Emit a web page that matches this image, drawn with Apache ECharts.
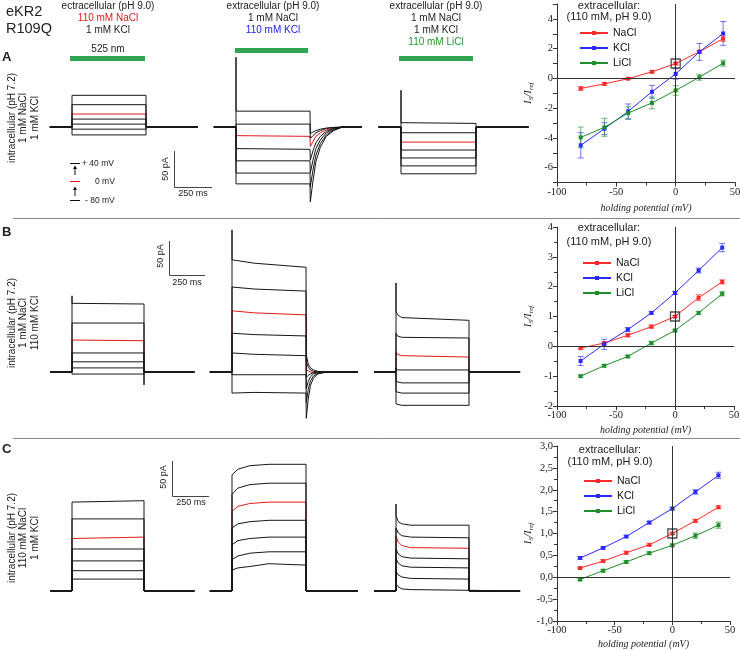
<!DOCTYPE html>
<html><head><meta charset="utf-8">
<script src="https://cdn.jsdelivr.net/npm/echarts@6/dist/echarts.min.js"></script>
<style>html,body{margin:0;padding:0;background:#fff}#c{width:740px;height:650px}</style>
</head><body><div id="c"></div><script>
// ---------- protocol (ms) ----------
const traceStart = -150, stepOn = 0, stepOff = 500, traceEnd = 850;
const voltageSteps = ['+40','+20','0','-20','-40','-60','-80'];
const redIndex = 2; // 0 mV trace

// ---------- current traces (pA) : rows = +40 ... -80 mV ----------
const a1Times = [0, 500];
const a1Levels = [[44,44],[31,31],[18,18],[11,11],[4,4],[-3,-3],[-11,-11]];
const a2Times = [0, 500];
const a2Levels = [[22,22],[4,4],[-12,-13],[-30,-31],[-47,-47],[-64,-64],[-79,-79]];
const a2OnsetSpike = 97;
const a2TailTimes = [502,520,540,570,610,660,720];
const a2Tails = [[-9,-7,-5,-3,-1.5,-0.5,0],[-16,-12,-8,-5,-2,-1,0],[-27,-20,-13,-8,-4,-1.5,0],
  [-46,-33,-22,-13,-6,-2,0],[-64,-46,-30,-18,-8,-3,0],[-83,-60,-39,-23,-11,-4,0],[-104,-75,-48,-28,-13,-5,0]];
const a3Times = [0, 500];
const a3Levels = [[6,5],[-8,-8],[-21,-21],[-32,-32],[-43,-43],[-54,-54],[-65,-65]];
const a3OnsetSpike = 51;

const b1Times = [0, 500];
const b1Levels = [[101,100],[72,72],[47,46],[28,28],[15,15],[6,6],[-3,-3]];
const b1OnsetSpike = 112, b1OffsetSpike = -19;
const b2Times = [0, 150, 500];
const b2Levels = [[165,160,154],[125,122,119],[90,87,84],[57,55,53],[28,26,24],[-4,-4,-4],[-31,-30,-31]];
const b2OnsetSpike = 209;
const b2TailTimes = [502,515,530,550,580,620,680];
const b2Tails = [[25,12,6,3,1,0,0],[15,7,3,1,0,0,0],[3,1,0,-1,0,0,0],[-8,-5,-3,-1,0,0,0],
  [-25,-14,-7,-3,-1,0,0],[-45,-26,-13,-6,-2,0,0],[-68,-40,-20,-9,-3,-1,0]];
const b3Times = [0, 10, 40, 500];
const b3Levels = [[90,84,80,76],[57,53,51,50],[30,26,24,22],[6,3,3,3],[-14,-16,-16,-16],[-29,-31,-31,-31],[-47,-49,-49,-49]];
const b3OnsetSpike = 131;

const c1Times = [0, 500];
const c1Levels = [[127,129],[103,103],[75,77],[60,60],[43,43],[29,29],[17,17]];
const c2Times = [0, 40, 120, 250, 500];
const c2Levels = [[166,174,179,181,181],[138,147,152,154,154],[114,121,125,127,127],[90,96,99,101,101],
  [66,72,75,77,77],[45,50,54,56,56],[30,33,35,39,37]];
const c3Times = [0, 15, 40, 100, 500];
const c3Levels = [[108,99,96,94,94],[90,83,79,77,76],[78,70,65,62,61],[60,53,49,47,46],[46,40,36,34,33],[28,23,20,18,17],[10,6,3,2,1]];
const c3OnsetSpike = 124;

// ---------- I-V data (I_S / I_ref) ----------
const ivVoltages = [-80,-60,-40,-20,0,20,40];
const refPoint = [0, 1];
const ivA_NaCl = [-0.68,-0.37,-0.02,0.44,1.0,1.79,2.67];
const ivA_NaCl_err = [0.12,0.1,0.06,0.07,0.06,0.1,0.18];
const ivA_KCl = [-4.5,-3.38,-2.22,-0.9,0.3,1.78,3.02];
const ivA_KCl_err = [0.85,0.4,0.5,0.43,0.35,0.57,0.8];
const ivA_LiCl = [-3.97,-3.29,-2.33,-1.65,-0.81,0.08,1.02];
const ivA_LiCl_err = [0.7,0.6,0.42,0.4,0.32,0.2,0.2];

const ivB_NaCl = [-0.06,0.11,0.37,0.66,1.0,1.63,2.16];
const ivB_NaCl_err = [0.04,0.04,0.05,0.05,0.03,0.1,0.07];
const ivB_KCl = [-0.49,0.07,0.56,1.12,1.79,2.54,3.31];
const ivB_KCl_err = [0.15,0.17,0.07,0.04,0.05,0.08,0.14];
const ivB_LiCl = [-1.0,-0.65,-0.34,0.11,0.53,1.12,1.76];
const ivB_LiCl_err = [0.04,0.04,0.04,0.06,0.04,0.05,0.07];

const ivC_NaCl = [0.21,0.37,0.56,0.74,1.0,1.29,1.6];
const ivC_NaCl_err = [0.02,0.03,0.03,0.02,0.02,0.03,0.03];
const ivC_KCl = [0.44,0.67,0.93,1.25,1.57,1.95,2.33];
const ivC_KCl_err = [0.03,0.02,0.02,0.03,0.03,0.05,0.07];
const ivC_LiCl = [-0.05,0.15,0.35,0.55,0.73,0.95,1.19];
const ivC_LiCl_err = [0.03,0.03,0.03,0.03,0.03,0.06,0.07];

const ionNames = ['NaCl','KCl','LiCl'];

// ---------- styling / layout ----------
const SANS = '"Liberation Sans", Arial, sans-serif';
const SERIF = '"Liberation Serif", "Times New Roman", serif';
const colBlack = '#161616', colRed = '#e3191c';
const ionColors = {NaCl:'#ff2a2a', KCl:'#2a2aff', LiCl:'#1f8f2a'};
const rowLayout = {
  A:{yMin:-115, yMax:107, top:49.96, height:159.84},
  B:{yMin:-80, yMax:220, top:222.4, height:204},
  C:{yMin:-20, yMax:200, top:451, height:154}
};
const panels = [
  {row:'A', on:72, off:146, times:a1Times, levels:a1Levels},
  {row:'A', on:236, off:310, times:a2Times, levels:a2Levels, onsetSpike:a2OnsetSpike, tailTimes:a2TailTimes, tails:a2Tails},
  {row:'A', on:401, off:476, times:a3Times, levels:a3Levels, onsetSpike:a3OnsetSpike},
  {row:'B', on:72, off:144, times:b1Times, levels:b1Levels, onsetSpike:b1OnsetSpike, offsetSpike:b1OffsetSpike},
  {row:'B', on:232, off:306, times:b2Times, levels:b2Levels, onsetSpike:b2OnsetSpike, tailTimes:b2TailTimes, tails:b2Tails},
  {row:'B', on:396, off:469, times:b3Times, levels:b3Levels, onsetSpike:b3OnsetSpike},
  {row:'C', on:72, off:144, times:c1Times, levels:c1Levels},
  {row:'C', on:232, off:306, times:c2Times, levels:c2Levels},
  {row:'C', on:396, off:469, times:c3Times, levels:c3Levels, onsetSpike:c3OnsetSpike}
];

function buildTrace(p, i) {
  const pts = [[traceStart, 0], [stepOn, 0]];
  if (i === 0 && p.onsetSpike != null) pts.push([stepOn, p.onsetSpike]);
  p.times.forEach((t, j) => pts.push([t, p.levels[i][j]]));
  if (i === 0 && p.offsetSpike != null) pts.push([stepOff, p.offsetSpike]);
  if (p.tails) p.tailTimes.forEach((t, j) => pts.push([t, p.tails[i][j]]));
  else pts.push([stepOff, 0]);
  pts.push([traceEnd, 0]);
  return pts;
}

const grids = [], xAxes = [], yAxes = [], series = [];
panels.forEach((p, gi) => {
  const r = rowLayout[p.row];
  const span = p.off - p.on;
  grids.push({left: p.on - span * 0.3, width: span * 2, top: r.top, height: r.height, outerBoundsMode:'none'});
  xAxes.push({gridIndex: gi, type:'value', min: traceStart, max: traceEnd, show:false});
  yAxes.push({gridIndex: gi, type:'value', min: r.yMin, max: r.yMax, show:false});
  voltageSteps.forEach((label, i) => {
    series.push({type:'line', name: label + ' mV', xAxisIndex: gi, yAxisIndex: gi, data: buildTrace(p, i), symbol:'none',
      silent:true, z: i === redIndex ? 2 : 3,
      lineStyle:{color: i === redIndex ? colRed : colBlack, width: 1}});
  });
});

// I-V grids
const ivRows = [
  {grid:{left:557, top:4, width:178, height:178.5}, yMin:-7, yMax:5, yInt:1, fmt: v => (Math.round(v) % 2 === 0 ? String(v) : ''), minor:false,
   data:{NaCl:[ivA_NaCl, ivA_NaCl_err], KCl:[ivA_KCl, ivA_KCl_err], LiCl:[ivA_LiCl, ivA_LiCl_err]}, legend:{left:579, top:27},
   head:{x:609, y1:6, y2:17}, nameGap:21},
  {grid:{left:557, top:227, width:177, height:179}, yMin:-2, yMax:4, yInt:1, fmt: v => String(v), minor:true,
   data:{NaCl:[ivB_NaCl, ivB_NaCl_err], KCl:[ivB_KCl, ivB_KCl_err], LiCl:[ivB_LiCl, ivB_LiCl_err]}, legend:{left:582, top:257},
   head:{x:609, y1:228, y2:242}, nameGap:19},
  {grid:{left:557, top:446, width:173, height:175}, yMin:-1, yMax:3, yInt:0.5, fmt: v => v.toFixed(1).replace('.', ','), minor:true,
   data:{NaCl:[ivC_NaCl, ivC_NaCl_err], KCl:[ivC_KCl, ivC_KCl_err], LiCl:[ivC_LiCl, ivC_LiCl_err]}, legend:{left:583, top:475},
   head:{x:610, y1:450, y2:462}, nameGap:18}
];

function errRender(color) {
  return function (params, api) {
    const x = api.value(0), y = api.value(1), e = api.value(2);
    const lo = api.coord([x, y - e]), hi = api.coord([x, y + e]);
    const w = 3, st = {stroke: color, lineWidth: 1, opacity: 0.65};
    return {type:'group', children:[
      {type:'line', shape:{x1:lo[0], y1:lo[1], x2:hi[0], y2:hi[1]}, style:st},
      {type:'line', shape:{x1:lo[0]-w, y1:lo[1], x2:lo[0]+w, y2:lo[1]}, style:st},
      {type:'line', shape:{x1:hi[0]-w, y1:hi[1], x2:hi[0]+w, y2:hi[1]}, style:st}
    ]};
  };
}

const legends = [];
ivRows.forEach((row, k) => {
  const gi = panels.length + k;
  grids.push(Object.assign({outerBoundsMode:'none'}, row.grid));
  xAxes.push({gridIndex: gi, type:'value', min:-100, max:50, interval:50,
    axisLine:{show:true, onZero:false, lineStyle:{color:'#333', width:1}},
    axisTick:{show:true, length:4, lineStyle:{color:'#333'}},
    minorTick:{show:true, splitNumber:2, length:3, lineStyle:{color:'#333'}},
    splitLine:{show:false}, minorSplitLine:{show:false},
    axisLabel:{fontFamily:SERIF, fontSize:10.5, color:'#222', margin:4},
    name:'holding potential (mV)', nameLocation:'middle', nameGap: row.nameGap, nameMoveOverlap:false,
    nameTextStyle:{fontFamily:SERIF, fontStyle:'italic', fontSize:10, color:'#222'}});
  yAxes.push({gridIndex: gi, type:'value', min: row.yMin, max: row.yMax, interval: row.yInt,
    axisLine:{show:true, onZero:false, lineStyle:{color:'#333', width:1}},
    axisTick:{show:true, length:4, lineStyle:{color:'#333'}},
    minorTick:{show: row.minor, splitNumber:2, length:3, lineStyle:{color:'#333'}},
    splitLine:{show:false}, minorSplitLine:{show:false},
    axisLabel:{fontFamily:SERIF, fontSize:10.5, color:'#222', margin:4, formatter: row.fmt},
    name:'{i|I}{s|S}{i|/I}{s|ref}', nameLocation:'middle', nameRotate:90, nameGap:22, nameMoveOverlap:false,
    nameTextStyle:{rich:{
      i:{fontFamily:SERIF, fontStyle:'italic', fontSize:11, lineHeight:14, color:'#222'},
      s:{fontFamily:SERIF, fontStyle:'italic', fontSize:7, lineHeight:8, verticalAlign:'bottom', color:'#222'}}}});
  ionNames.forEach((ion, n) => {
    const [vals, errs] = row.data[ion];
    const c = ionColors[ion];
    series.push({type:'custom', name: ion + ' error', xAxisIndex: gi, yAxisIndex: gi, silent:true, z:2,
      renderItem: errRender(c), encode:{x:0, y:1},
      data: ivVoltages.map((v, i) => [v, vals[i], errs[i]])});
    const s = {type:'line', name: ion, xAxisIndex: gi, yAxisIndex: gi, silent:true, z:3,
      symbol:'rect', symbolSize:4, showAllSymbol:true,
      lineStyle:{color:c, width:1}, itemStyle:{color:c},
      data: ivVoltages.map((v, i) => [v, vals[i]])};
    if (n === 0) {
      s.markLine = {silent:true, symbol:'none', label:{show:false}, animation:false,
        lineStyle:{color:'#333', width:1, type:'solid'}, emphasis:{disabled:true},
        data:[{xAxis:0}, {yAxis:0}]};
    }
    series.push(s);
  });
  series.push({type:'scatter', name:'reference', xAxisIndex: gi, yAxisIndex: gi, silent:true, z:5,
    symbol:'rect', symbolSize:9, itemStyle:{color:'rgba(0,0,0,0)', borderColor:'#222', borderWidth:1.3},
    data:[refPoint]});
  legends.push({data: ionNames, orient:'vertical', left: row.legend.left, top: row.legend.top, padding:0,
    itemWidth:28, itemHeight:5, itemGap:3, selectedMode:false,
    textStyle:{fontFamily:SANS, fontSize:10.5, color:'#111', lineHeight:12}});
});

// ---------- annotations ----------
const G = [];
function T(x, y, text, o = {}) {
  G.push({type:'text', x, y, rotation: o.rot || 0, silent:true, z:10,
    style:{text, fill: o.color || '#222',
      font: (o.style || 'normal') + ' ' + (o.weight || 'normal') + ' ' + (o.size || 10) + 'px ' + (o.family || SANS),
      align: o.align || 'center', verticalAlign:'middle'}});
}
function L(x1, y1, x2, y2, color = '#333', w = 1) {
  G.push({type:'line', silent:true, z:10, shape:{x1, y1, x2, y2}, style:{stroke: color, lineWidth: w}});
}
function R(x, y, w, h, color) {
  G.push({type:'rect', silent:true, z:10, shape:{x, y, width:w, height:h}, style:{fill: color}});
}
const green = '#2fa752';
T(6, 12, 'eKR2', {size:14.5, align:'left'});
T(6, 29, 'R109Q', {size:14.5, align:'left'});
T(108, 6, 'ectracellular (pH 9.0)');
T(108, 18, '110 mM NaCl', {color:'#e3191c'});
T(108, 30, '1 mM KCl');
T(273, 6, 'extracellular (pH 9.0)');
T(273, 18, '1 mM NaCl');
T(273, 30, '110 mM KCl', {color:'#2020f0'});
T(436, 6, 'extracellular (pH 9.0)');
T(436, 18, '1 mM NaCl');
T(436, 30, '1 mM KCl');
T(436, 42, '110 mM LiCl', {color:'#1f9a2f'});
T(108, 49, '525 nm');
R(70, 56, 75, 5, green);
R(235, 48, 73, 5, green);
R(399, 56, 74, 5, green);
T(2, 57, 'A', {size:13, weight:'bold', align:'left'});
T(2, 232, 'B', {size:13, weight:'bold', align:'left'});
T(2, 449, 'C', {size:13, weight:'bold', align:'left'});
// left rotated labels
[[118, ['intracellular (pH 7.2)', '1 mM NaCl', '1 mM KCl']],
 [323, ['intracellular (pH 7.2)', '1 mM NaCl', '110 mM KCl']],
 [538, ['intracellular (pH 7.2)', '110 mM NaCl', '1 mM KCl']]].forEach(([cy, lines]) => {
  lines.forEach((s, i) => T(12 + i * 11.5, cy, s, {rot: Math.PI / 2}));
});
// dividers
L(13, 218.5, 740, 218.5, '#888');
L(13, 438.5, 740, 438.5, '#888');
// scale bars
function scaleBar(x, yTop, yBot, xEnd, pa, ms) {
  L(x + 0.5, yTop, x + 0.5, yBot + 0.5, '#444');
  L(x + 0.5, yBot + 0.5, xEnd, yBot + 0.5, '#444');
  T(pa[0], pa[1], '50 pA', {size:9, rot: Math.PI / 2});
  T(ms[0], ms[1], '250 ms', {size:9});
}
scaleBar(174, 151, 187, 212, [166, 169], [193, 194]);
scaleBar(169, 241, 275, 205, [161, 256], [187, 283]);
scaleBar(172, 461, 496, 209, [164, 477], [191, 503]);
// voltage legend
L(70, 163.5, 80, 163.5, '#111');
T(82, 163.5, '+ 40 mV', {size:8.5, align:'left'});
L(75, 169, 75, 175, '#111');
G.push({type:'polygon', silent:true, z:10, shape:{points:[[73, 169], [77, 169], [75, 165.5]]}, style:{fill:'#111'}});
L(70, 181.5, 80, 181.5, '#e3191c');
T(95, 181.5, '0 mV', {size:8.5, align:'left'});
L(75, 190, 75, 196, '#111');
G.push({type:'polygon', silent:true, z:10, shape:{points:[[73, 190], [77, 190], [75, 186.5]]}, style:{fill:'#111'}});
L(70, 200.5, 80, 200.5, '#111');
T(85, 200.5, '- 80 mV', {size:8.5, align:'left'});
// I-V headers
ivRows.forEach(row => {
  T(row.head.x, row.head.y1, 'extracellular:', {size:11});
  T(row.head.x, row.head.y2, '(110 mM, pH 9.0)', {size:11});
});

const chart = echarts.init(document.getElementById('c'), null, {renderer:'canvas'});
chart.setOption({
  animation:false,
  backgroundColor:'#fff',
  grid: grids, xAxis: xAxes, yAxis: yAxes, legend: legends, series,
  graphic:{elements: G}
});
</script></body></html>
